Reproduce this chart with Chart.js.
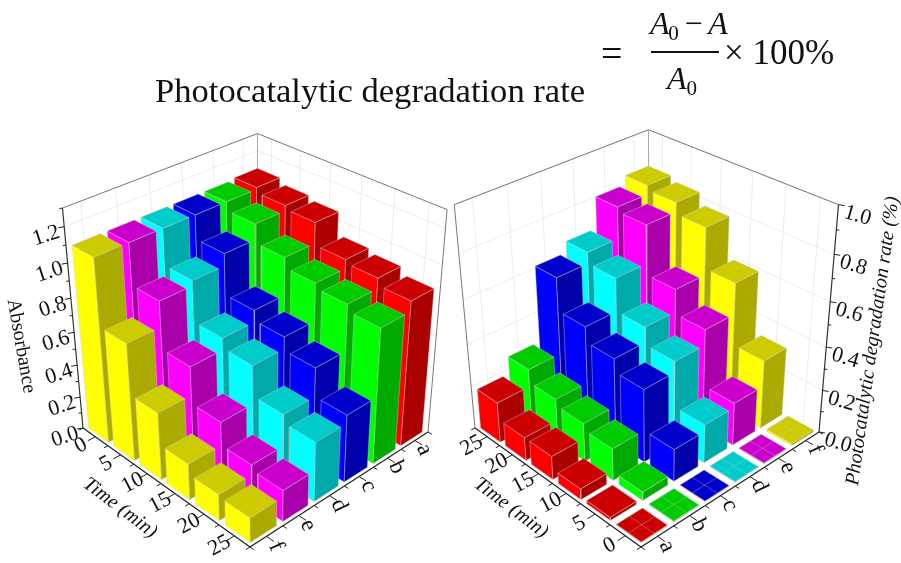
<!DOCTYPE html>
<html lang="en">
<head>
<meta charset="UTF-8">
<title>Photocatalytic degradation</title>
<script src="https://cdn.jsdelivr.net/npm/chart.js@4"></script>
<style>
    html, body { margin: 0; padding: 0; background: #fff; }
    #wrap { position: relative; width: 901px; height: 563px; overflow: hidden; font-family: "Liberation Serif", serif; color: #111; }
    #wrap span { position: absolute; white-space: nowrap; line-height: 1; }
    #wrap i sub { font-size: 66%; font-style: normal; vertical-align: -0.3em; line-height: 0; }
    canvas { position: absolute; left: 0; top: 0; }
</style>
</head>
<body>
<div id="wrap">
    <canvas id="myChart" width="901" height="563"></canvas>
    <span style="left:155px;top:73px;font-size:34.6px">Photocatalytic degradation rate</span>
    <span style="left:601px;top:34px;font-size:38px">=</span>
    <span style="left:650px;top:7px;font-size:32px;letter-spacing:-1.2px"><i>A<sub>0</sub></i> − <i>A</i></span>
    <span style="left:651px;top:51px;width:68px;height:2px;background:#111"></span>
    <span style="left:667px;top:62px;font-size:32px"><i>A<sub>0</sub></i></span>
    <span style="left:724px;top:35px;font-size:35px">× 100%</span>
</div>

<script>
    // values, one array per sample, time 0 -> 25
    var timeLabels = ['0', '5', '10', '15', '20', '25'];
    var sampleLabels = ['a', 'b', 'c', 'd', 'e', 'f'];
    var absTicks = [0, 0.2, 0.4, 0.6, 0.8, 1.0, 1.2];
    var rateTicks = [0, 0.2, 0.4, 0.6, 0.8, 1.0];

    var absA = [1.11, 1.08, 1.06, 0.93, 0.91, 0.87];
    var absB = [1.10, 1.05, 0.94, 0.88, 0.85, 0.81];
    var absC = [1.10, 0.96, 0.72, 0.66, 0.58, 0.41];
    var absD = [1.10, 0.89, 0.65, 0.59, 0.41, 0.36];
    var absE = [1.10, 0.86, 0.58, 0.36, 0.22, 0.19];
    var absF = [1.10, 0.71, 0.41, 0.22, 0.16, 0.15];

    var rateA = [0.003, 0.015, 0.05, 0.11, 0.11, 0.19];
    var rateB = [0.003, 0.04, 0.15, 0.18, 0.21, 0.27];
    var rateC = [0.002, 0.15, 0.34, 0.40, 0.47, 0.62];
    var rateD = [0.003, 0.18, 0.39, 0.47, 0.62, 0.67];
    var rateE = [0.003, 0.20, 0.46, 0.57, 0.79, 0.81];
    var rateF = [0.01, 0.32, 0.60, 0.78, 0.83, 0.85];

    // bright side, top, dark side
    var faceColors = [
        ['#ff0000', '#cc0000', '#aa0000'],
        ['#00ff00', '#00cc00', '#00aa00'],
        ['#0000ff', '#0000cc', '#0000aa'],
        ['#00ffff', '#00cccc', '#00aaaa'],
        ['#ff00ff', '#cc00cc', '#aa00aa'],
        ['#ffff00', '#cccc00', '#aaaa00']
    ];

    var absValues = [absA, absB, absC, absD, absE, absF];
    var rateValues = [rateA, rateB, rateC, rateD, rateE, rateF];

    // Perspective camera for a panel: floor corners + vertical vanishing point
    function makeCamera(p00, p10, p01, p11, vanish, topShrink) {
        var dx1 = p10[0] - p11[0], dx2 = p01[0] - p11[0], sx = p00[0] - p10[0] + p11[0] - p01[0];
        var dy1 = p10[1] - p11[1], dy2 = p01[1] - p11[1], sy = p00[1] - p10[1] + p11[1] - p01[1];
        var det = dx1 * dy2 - dx2 * dy1;
        var g = (sx * dy2 - dx2 * sy) / det, h = (dx1 * sy - sx * dy1) / det;
        var a = p10[0] - p00[0] + g * p10[0], b = p01[0] - p00[0] + h * p01[0], c = p00[0];
        var d = p10[1] - p00[1] + g * p10[1], e = p01[1] - p00[1] + h * p01[1], f = p00[1];
        return function (u, v, w) {
            var q = topShrink * w;
            var den = g * u + h * v + 1 + q;
            return { x: (a * u + b * v + c + q * vanish[0]) / den, y: (d * u + e * v + f + q * vanish[1]) / den };
        };
    }

    var shift = 391;
    var camLeft = makeCamera([83, 428], [250, 547], [258, 338], [428, 432], [263, 2356], -0.1024);
    var camRight = makeCamera([250 + shift, 547], [83 + shift + 1, 428], [428 + shift, 432], [258 + shift, 338], [263 + shift, 2356], -0.119);

    var marks = [];
    var labels = [];

    function addLine(pts, color, width) {
        marks.push({ type: 'scatter', data: pts, showLine: true, pointRadius: 0, fill: false, borderColor: color, borderWidth: width });
    }
    function addFace(pts, fill) {
        marks.push({ type: 'scatter', data: pts.concat([pts[0]]), showLine: true, pointRadius: 0, fill: 'shape', backgroundColor: fill, borderColor: 'rgba(205,205,205,0.6)', borderWidth: 0.7 });
    }

    function addBar(cam, u0, u1, v0, v1, w, colors, darkAtU, flat) {
        var du = darkAtU;
        addFace([cam(u0, v0, 0), cam(u1, v0, 0), cam(u1, v0, w), cam(u0, v0, w)], colors[0]);
        addFace([cam(du, v0, 0), cam(du, v1, 0), cam(du, v1, w), cam(du, v0, w)], colors[2]);
        addFace([cam(u0, v0, w), cam(u1, v0, w), cam(u1, v1, w), cam(u0, v1, w)], colors[1]);
        if (flat) {
            var um = (u0 + u1) / 2, vm = (v0 + v1) / 2;
            addLine([cam(u0, vm, w), cam(u1, vm, w)], 'rgba(205,205,205,0.5)', 0.7);
            addLine([cam(um, v0, w), cam(um, v1, w)], 'rgba(205,205,205,0.5)', 0.7);
        }
    }

    // wall grid: w lines along the wall, cat lines up the wall
    function addWall(cam, fixedU, fixedV, ticks, zMax) {
        var k, t, along;
        for (k = 0; k < ticks.length; k++) {
            t = ticks[k] / zMax;
            if (fixedU !== null) addLine([cam(fixedU, 0, t), cam(fixedU, 1, t)], '#ececec', 1);
            else addLine([cam(0, fixedV, t), cam(1, fixedV, t)], '#ececec', 1);
        }
        for (k = 0; k < 6; k++) {
            along = (k + 0.5) / 6;
            if (fixedU !== null) addLine([cam(fixedU, along, 0), cam(fixedU, along, 1)], '#ececec', 1);
            else addLine([cam(along, fixedV, 0), cam(along, fixedV, 1)], '#ececec', 1);
        }
    }

    function addTicks(cam, alongU, fixed, outU, outV, names, dx, dy, rot, font) {
        var i, p, q, s;
        for (i = 0; i <= 12; i++) {
            s = i / 12;
            var len = i % 2 ? 0.038 : 0.02;
            p = alongU ? cam(s, fixed, 0) : cam(fixed, s, 0);
            q = alongU ? cam(s + outU * len, fixed + outV * len, 0) : cam(fixed + outU * len, s + outV * len, 0);
            addLine([p, q], '#222', 1);
            if (i % 2) {
                var idx = (i - 1) / 2;
                labels.push({ text: names(idx), x: q.x + dx, y: q.y + dy, rot: rot, font: font });
            }
        }
    }

    function addZAxis(cam, u, v, ticks, zMax, step, side, dx, dy, rot) {
        addLine([cam(u, v, 0), cam(u, v, 1)], '#333', 1.2);
        var n = Math.round(zMax / step);
        for (var i = 0; i <= n; i++) {
            var w = i * step / zMax;
            var p = cam(u, v, w);
            var major = i % 2 === 0;
            addLine([p, { x: p.x + side * (major ? 6 : 3), y: p.y + (major ? 1 : 0.5) }], '#222', 1);
        }
        ticks.forEach(function (t) {
            var p = cam(u, v, t / zMax);
            labels.push({ text: t.toFixed(1), x: p.x + dx, y: p.y + dy, rot: rot, font: '22px "Liberation Serif"' });
        });
    }

    // ---- left panel, absorbance
    addWall(camLeft, 0, null, [0.2, 0.4, 0.6, 0.8, 1.0, 1.2], 1.3);
    addWall(camLeft, null, 1, [0.2, 0.4, 0.6, 0.8, 1.0, 1.2], 1.3);
    addLine([camLeft(0, 0, 1), camLeft(0, 1, 1), camLeft(1, 1, 1)], '#777', 1);
    addLine([camLeft(0, 1, 0), camLeft(0, 1, 1)], '#aaa', 1);
    addLine([camLeft(1, 1, 0), camLeft(1, 1, 1)], '#777', 1);
    addLine([camLeft(0, 0, 0), camLeft(1, 0, 0), camLeft(1, 1, 0)], '#222', 1.2);
    addZAxis(camLeft, 0, 0, absTicks, 1.3, 0.1, -1, -18, 9, -18);
    addTicks(camLeft, true, 0, 0, -1, function (i) { return timeLabels[i]; }, -7, 5, -28, '22px "Liberation Serif"');
    addTicks(camLeft, false, 1, 1, 0, function (i) { return sampleLabels[5 - i]; }, 2, 5, 65, '23px "Liberation Serif"');
    var i, j;
    for (i = 0; i < 6; i++) {
        for (j = 0; j < 6; j++) {
            // sample a (index 0) is the back row, sample f sits on v = 0
            var col = 5 - j;
            addBar(camLeft, (i + 0.1) / 6, (i + 0.9) / 6, (col + 0.1) / 6, (col + 0.9) / 6,
                absValues[j][i] / 1.3, faceColors[j], (i + 0.9) / 6, false);
        }
    }

    // ---- right panel, degradation rate
    addWall(camRight, 1, null, [0.2, 0.4, 0.6, 0.8, 1.0], 1);
    addWall(camRight, null, 1, [0.2, 0.4, 0.6, 0.8, 1.0], 1);
    addLine([camRight(1, 0, 1), camRight(1, 1, 1), camRight(0, 1, 1)], '#777', 1);
    addLine([camRight(1, 0, 0), camRight(1, 0, 1)], '#777', 1);
    addLine([camRight(1, 1, 0), camRight(1, 1, 1)], '#aaa', 1);
    addLine([camRight(1, 0, 0), camRight(0, 0, 0), camRight(0, 1, 0)], '#222', 1.2);
    addZAxis(camRight, 0, 1, rateTicks, 1, 0.1, 1, 19, 11, 16);
    addTicks(camRight, true, 0, 0, -1, function (i) { return timeLabels[i]; }, -8, 5, -28, '22px "Liberation Serif"');
    addTicks(camRight, false, 0, -1, 0, function (i) { return sampleLabels[i]; }, 2, 5, 65, '23px "Liberation Serif"');
    for (i = 5; i >= 0; i--) {
        for (j = 5; j >= 0; j--) {
            addBar(camRight, (i + 0.1) / 6, (i + 0.9) / 6, (j + 0.1) / 6, (j + 0.9) / 6,
                rateValues[j][i], faceColors[j], (i + 0.1) / 6, rateValues[j][i] < 0.012);
        }
    }

    labels.push({ text: 'Absorbance', x: 21, y: 346, rot: 80, font: '20px "Liberation Serif"' });
    labels.push({ text: 'Time (min)', x: 120, y: 508, rot: 37, font: 'italic 20px "Liberation Serif"' });
    labels.push({ text: 'Time (min)', x: 511, y: 508, rot: 37, font: 'italic 20px "Liberation Serif"' });
    labels.push({ text: 'Photocatalytic degradation rate (%)', x: 873, y: 341, rot: -82, font: 'italic 20px "Liberation Serif"' });

    var labelPlugin = {
        id: 'panelLabels',
        afterDraw: function (chart) {
            var ctx = chart.ctx;
            labels.forEach(function (l) {
                ctx.save();
                ctx.translate(chart.scales.x.getPixelForValue(l.x), chart.scales.y.getPixelForValue(l.y));
                ctx.rotate(l.rot * Math.PI / 180);
                ctx.font = l.font;
                ctx.fillStyle = '#111';
                ctx.textAlign = 'center';
                ctx.textBaseline = 'middle';
                ctx.fillText(l.text, 0, 0);
                ctx.restore();
            });
        }
    };

    // first dataset is painted last, so hand them over front to back
    new Chart(document.getElementById('myChart').getContext('2d'), {
        type: 'scatter',
        data: { datasets: marks.slice().reverse() },
        plugins: [labelPlugin],
        options: {
            responsive: false,
            animation: false,
            events: [],
            layout: { padding: 0 },
            plugins: { legend: { display: false }, title: { display: false }, tooltip: { enabled: false } },
            scales: {
                x: { type: 'linear', min: 0, max: 901, display: false },
                y: { type: 'linear', min: 0, max: 563, reverse: true, display: false }
            }
        }
    });
</script>
</body>
</html>
